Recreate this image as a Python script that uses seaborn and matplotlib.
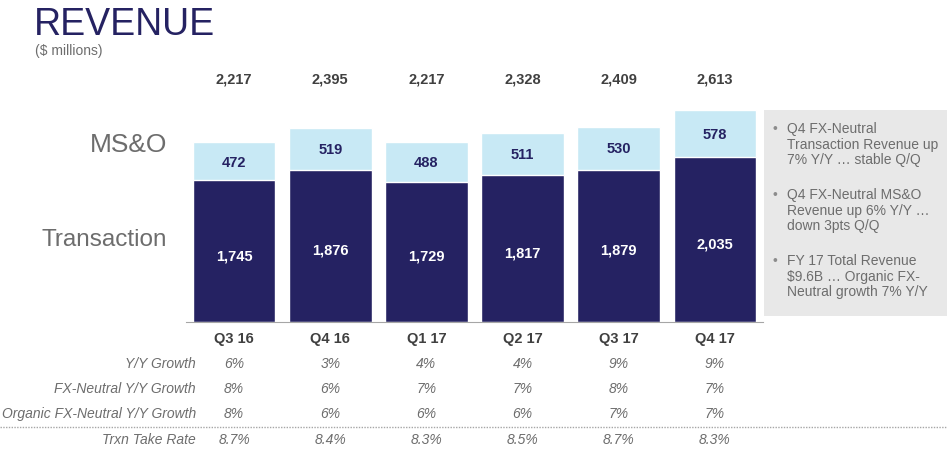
import matplotlib
matplotlib.use("Agg")
import matplotlib.pyplot as plt
import matplotlib.transforms as mtransforms
from matplotlib.lines import Line2D
from matplotlib.patches import Rectangle
import seaborn as sns
import pandas as pd

quarters = ["Q3 16", "Q4 16", "Q1 17", "Q2 17", "Q3 17", "Q4 17"]
transaction = [1745, 1876, 1729, 1817, 1879, 2035]
mso = [472, 519, 488, 511, 530, 578]
totals = [2217, 2395, 2217, 2328, 2409, 2613]

row_names = ["Y/Y Growth", "FX-Neutral Y/Y Growth", "Organic FX-Neutral Y/Y Growth", "Trxn Take Rate"]
yy_growth = ["6%", "3%", "4%", "4%", "9%", "9%"]
fxn_growth = ["8%", "6%", "7%", "7%", "8%", "7%"]
organic_growth = ["8%", "6%", "6%", "6%", "7%", "7%"]
take_rate = ["8.7%", "8.4%", "8.3%", "8.5%", "8.7%", "8.3%"]

bullets = [
    "Q4 FX-Neutral\nTransaction Revenue up\n7% Y/Y \u2026 stable Q/Q",
    "Q4 FX-Neutral MS&O\nRevenue up 6% Y/Y \u2026\ndown 3pts Q/Q",
    "FY 17 Total Revenue\n$9.6B \u2026 Organic FX-\nNeutral growth 7% Y/Y",
]

NAVY = "#252262"
LIGHT = "#c8e9f5"
GRAY = "#6d6d6d"
DARK = "#404040"

sns.set_style("white")
plt.rcParams["font.family"] = ["Liberation Sans", "DejaVu Sans"]

df = pd.DataFrame({"quarter": quarters, "trans": transaction, "total": totals, "mso": mso})

W, H = 947, 453
fig = plt.figure(figsize=(W / 100, H / 100), dpi=100)
ax = fig.add_axes([186 / W, (H - 322) / H, (763 - 186) / W, 262 / H])

# stacked bars: total (light) behind, transaction (navy) in front
sns.barplot(data=df, x="quarter", y="total", color=LIGHT, width=0.86, saturation=1, ax=ax)
sns.barplot(data=df, x="quarter", y="trans", color=NAVY, width=0.86, saturation=1, ax=ax)

ax.set_xlim(-0.5, 5.5)
ax.set_ylim(0, 3230)
ax.set_xlabel("")
ax.set_ylabel("")
ax.set_yticks([])
for s in ["top", "right", "left"]:
    ax.spines[s].set_visible(False)
ax.spines["bottom"].set_color("#a6a6a6")
ax.tick_params(axis="x", which="major", length=0, pad=7, labelsize=10.5, labelcolor=DARK)
for lbl in ax.get_xticklabels():
    lbl.set_fontweight("bold")
ax.set_xticks([i - 0.5 for i in range(len(quarters) + 1)], minor=True)
ax.tick_params(axis="x", which="minor", length=5, color="#a6a6a6", direction="out")

for i in range(len(quarters)):
    ax.text(i, transaction[i] / 2 - 60, f"{transaction[i]:,}", ha="center", va="center",
            color="white", fontsize=10.5, fontweight="bold")
    ax.text(i, transaction[i] + mso[i] / 2 - 15, f"{mso[i]:,}", ha="center", va="center",
            color=NAVY, fontsize=10.5, fontweight="bold")
    ax.text(i, 2995, f"{totals[i]:,}", ha="center", va="center",
            color=DARK, fontsize=10.5, fontweight="bold", clip_on=False)

# title
fig.text(34 / W, 1 - 35 / H, "REVENUE", color=NAVY, fontsize=27, va="baseline", ha="left")
fig.text(35 / W, 1 - 55 / H, "($ millions)", color=GRAY, fontsize=10, va="baseline", ha="left")

# series labels
fig.text(167 / W, 1 - 152 / H, "MS&O", color=GRAY, fontsize=19, ha="right", va="baseline")
fig.text(167 / W, 1 - 246 / H, "Transaction", color=GRAY, fontsize=17.5, ha="right", va="baseline")

# table below
blend = mtransforms.blended_transform_factory(ax.transData, fig.transFigure)
row_y = [364, 389, 414, 440]
rows = [yy_growth, fxn_growth, organic_growth, take_rate]
for name, vals, yp in zip(row_names, rows, row_y):
    fig.text(196 / W, 1 - yp / H, name, color=GRAY, fontsize=10, style="italic", ha="right", va="center")
    for i, v in enumerate(vals):
        ax.text(i, 1 - yp / H, v, transform=blend, color=GRAY, fontsize=10, style="italic",
                ha="center", va="center", clip_on=False)

fig.add_artist(Line2D([0, 1], [1 - 427 / H] * 2, transform=fig.transFigure,
                      color="#a6a6a6", linestyle=(0, (1, 1)), linewidth=1))

# comment box
fig.add_artist(Rectangle((764 / W, (H - 316) / H), (W - 764) / W, 206 / H,
                         transform=fig.transFigure, facecolor="#e8e8e8", edgecolor="none", zorder=0))
for b, yp in zip(bullets, [122, 188, 254]):
    fig.text(772 / W, 1 - yp / H, "\u2022", color="#8c8c8c", fontsize=10, va="top", ha="left")
    fig.text(787 / W, 1 - yp / H, b, color=GRAY, fontsize=10, va="top", ha="left", linespacing=1.15)

fig.savefig("out.png", dpi=100)
